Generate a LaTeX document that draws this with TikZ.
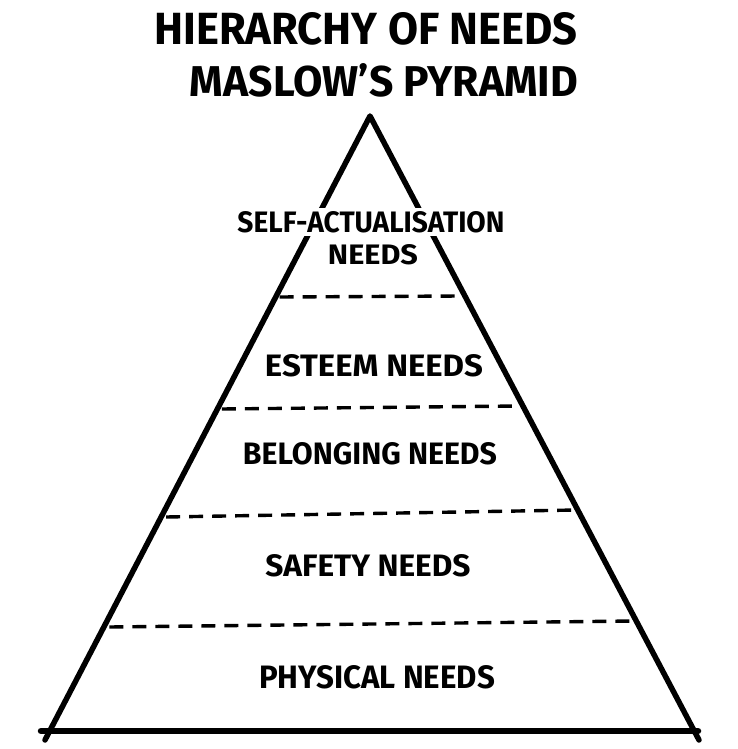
\documentclass[tikz,border=0pt]{standalone}
\usepackage{fontspec}
\setmainfont{Fira Sans}
\usetikzlibrary{calc}
\newcommand{\hand}[3]{\resizebox{#1pt}{#2pt}{\bfseries #3}}
\begin{document}
\begin{tikzpicture}[x=1pt,y=-1pt,
  edge/.style={line width=5.5pt,line cap=round,line join=round},
  level/.style={line width=3.4pt,dash pattern=on 14pt off 9pt},
  lbl/.style={inner sep=0pt,text=black},
  masklbl/.style={inner sep=3pt,fill=white,text=black}]
\useasboundingbox (0,0) rectangle (737,749);
% pyramid corners
\coordinate (apex) at (370,116);
\coordinate (bl) at (45,740);
\coordinate (br) at (699,740);
\coordinate (gl) at (41,731);
\coordinate (gr) at (698,731);
\draw[edge] (bl) -- (apex) -- (br);
\draw[line width=6.5pt,line cap=round] (gl) -- (gr);
% level boundaries on the edges
\foreach \n/\y in {a/297,b/408,c/515,d/624}{
  \pgfmathsetmacro{\t}{(\y-116)/624}
  \coordinate (L\n) at ($(apex)!\t!(bl)$);
  \coordinate (R\n) at ($(apex)!\t!(br)$);
}
\draw[level] ($(La)+(4,0)$) -- ($(Ra)+(-4,-1)$);
\draw[level] ($(Lb)+(4,1)$) -- ($(Rb)+(-4,-2)$);
\draw[level] ($(Lc)+(4,2)$) -- ($(Rc)+(-4,-5)$);
\draw[level] ($(Ld)+(4,3)$) -- ($(Rd)+(-4,-3)$);
% title
\node[lbl] (t1) at (366,29) {\hand{423}{32}{HIERARCHY OF NEEDS}};
\node[lbl] (t2) at (384,80) {\hand{388}{33}{MASLOW'S PYRAMID}};
% labels
\node[masklbl] (s1) at (371,222) {\hand{267}{21}{SELF-ACTUALISATION}};
\node[lbl] (s2) at (373,255) {\hand{90}{20}{NEEDS}};
\node[lbl] (es) at (374,366) {\hand{218}{22}{ESTEEM NEEDS}};
\node[lbl] (be) at (370,454) {\hand{254}{22}{BELONGING NEEDS}};
\node[lbl] (sa) at (368,566) {\hand{205}{22}{SAFETY NEEDS}};
\node[lbl] (ph) at (377,677) {\hand{236}{23}{PHYSICAL NEEDS}};
\end{tikzpicture}
\end{document}
